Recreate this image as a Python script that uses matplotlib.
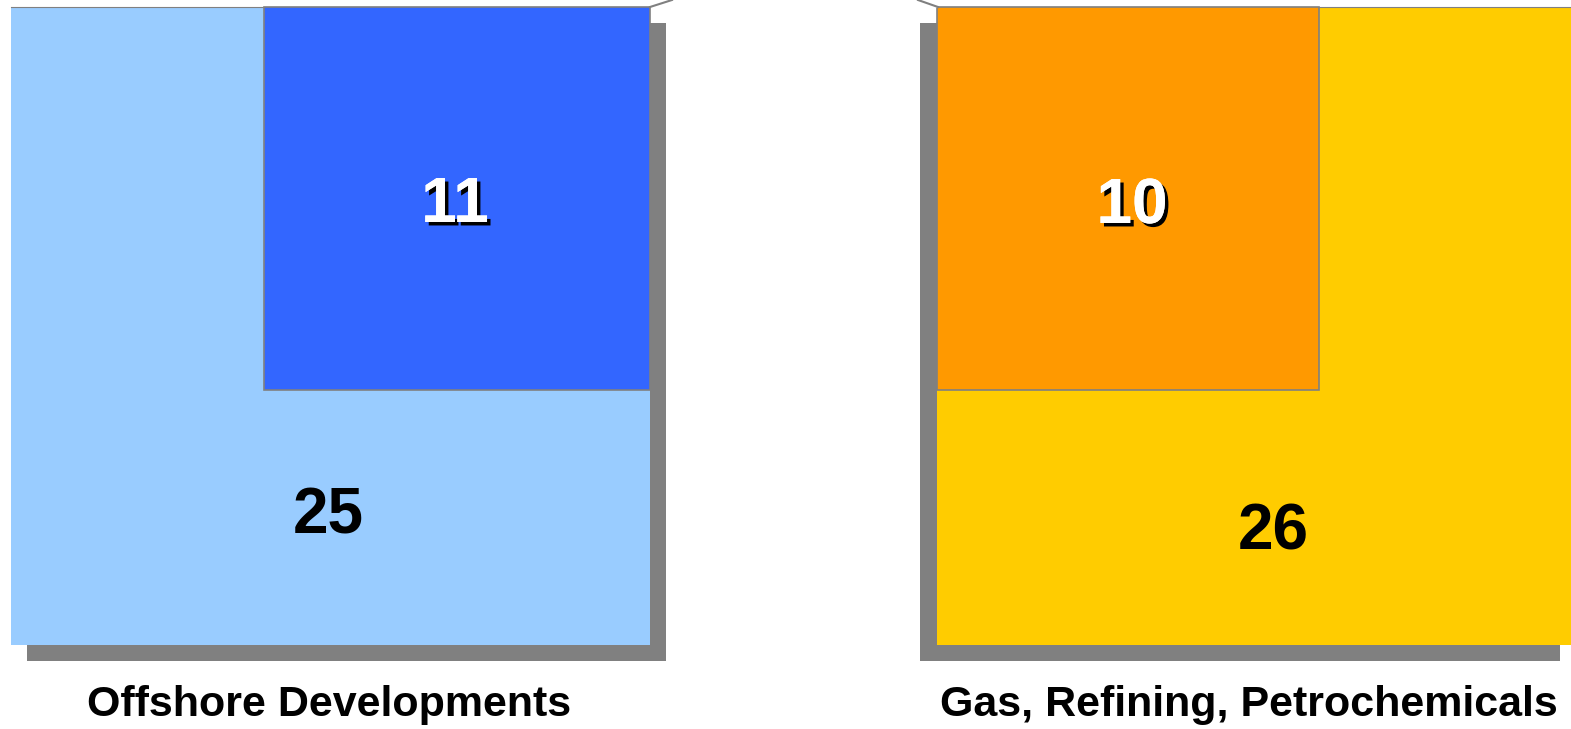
import matplotlib.pyplot as plt
import matplotlib.patches as patches
import matplotlib.patheffects as pe

plt.rcParams['font.family'] = ['Liberation Sans', 'DejaVu Sans']

categories = ['Offshore Developments', 'Gas, Refining, Petrochemicals']
outer_values = [25, 26]
inner_values = [11, 10]

outer_colors = ['#99CCFF', '#FFCC00']
inner_colors = ['#3366FF', '#FF9900']
shadow = '#808080'

# layout in pixel coords (x0, y0, w, h) for outer and inner squares
outer_boxes = [(11, 7, 639, 638), (937, 7, 640, 638)]
inner_boxes = [(264, 7, 386, 383), (937, 7, 382, 383)]
shadow_offsets = [(16, 16), (-17, 16)]
inner_label_pos = [(455, 222), (1132, 223)]
outer_label_pos = [(328, 533), (1273, 550)]
cat_label_pos = [(329, 716), (1249, 716)]
cat_sizes = [31, 31]

fig = plt.figure(figsize=(15.71, 7.29), dpi=100)
ax = fig.add_axes([0, 0, 1, 1])
ax.set_xlim(0, 1571)
ax.set_ylim(729, 0)
ax.axis('off')

for i in range(2):
    x, y, w, h = outer_boxes[i]
    dx, dy = shadow_offsets[i]
    ax.add_patch(patches.Rectangle((x + dx, y + dy), w, h, facecolor=shadow, edgecolor='none', zorder=1))
    ax.add_patch(patches.Rectangle((x, y), w, h, facecolor=outer_colors[i], edgecolor='none', zorder=2))
    ix, iy, iw, ih = inner_boxes[i]
    ax.add_patch(patches.Rectangle((ix, iy), iw, ih, facecolor=inner_colors[i], edgecolor=shadow, linewidth=1.2, zorder=3))

    ax.text(*inner_label_pos[i], str(inner_values[i]), color='white', fontsize=46, fontweight='bold',
            ha='center', va='baseline', zorder=5,
            path_effects=[pe.withSimplePatchShadow(offset=(2.5, -2.5), shadow_rgbFace='black', alpha=1), pe.Normal()])
    ax.text(*outer_label_pos[i], str(outer_values[i]), color='black', fontsize=46, fontweight='bold',
            ha='center', va='baseline', zorder=5)
    ax.text(*cat_label_pos[i], categories[i], color='black', fontsize=cat_sizes[i], fontweight='bold',
            ha='center', va='baseline', zorder=5)

# clipped connector arrow at the top
ax.add_patch(patches.Polygon([(650, 7.5), (672, -2), (918, -2), (938, 7.5)], closed=True,
                             facecolor='white', edgecolor='none', zorder=4))
ax.plot([650, 672], [7, 0], color=shadow, lw=1.5, zorder=4)
ax.plot([918, 938], [0, 7], color=shadow, lw=1.5, zorder=4)
ax.plot([11, 650], [7, 7], color=shadow, lw=0.8, zorder=2.5)
ax.plot([937, 1571], [7, 7], color=shadow, lw=0.8, zorder=2.5)

fig.savefig('out.png', dpi=100)
